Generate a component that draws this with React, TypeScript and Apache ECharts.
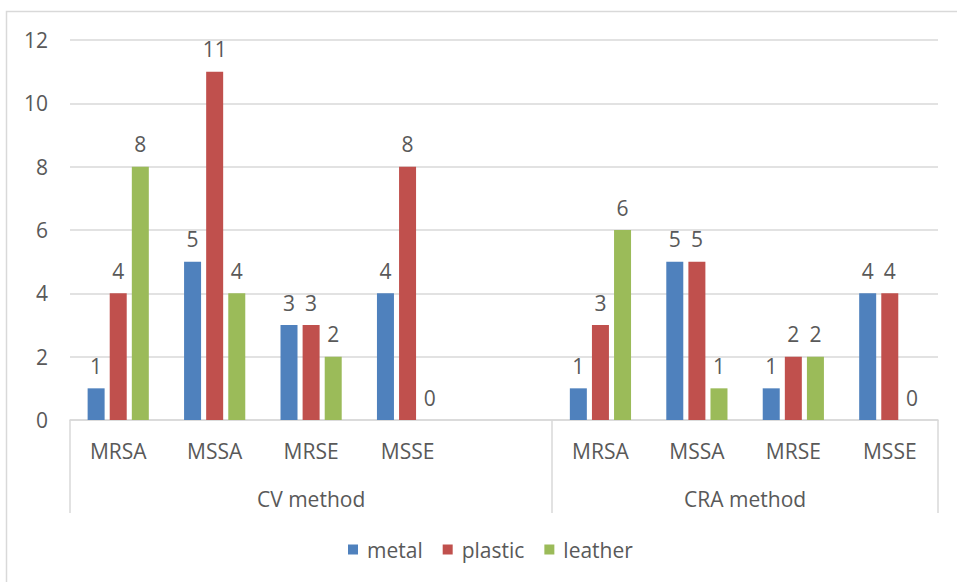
import React, { useEffect, useRef } from 'react';
import * as echarts from 'echarts';

// Two method groups, each holding the organisms tested with it
const cvLabel = 'CV method';
const craLabel = 'CRA method';
const cvOrganisms = ['MRSA', 'MSSA', 'MRSE', 'MSSE', ''];
const craOrganisms = ['MRSA', 'MSSA', 'MRSE', 'MSSE'];

// Counts per surface material, in the same order as the categories above
const metal = [1, 5, 3, 4, null, 1, 5, 1, 4];
const plastic = [4, 11, 3, 8, null, 3, 5, 2, 4];
const leather = [8, 4, 2, 0, null, 6, 1, 2, 0];

const seriesNames = ['metal', 'plastic', 'leather'];
const seriesColors = ['#4F81BD', '#C0504D', '#9BBB59'];

const TEXT = '#595959';
const GRID = '#D9D9D9';
const FONT = '"Open Sans", "Noto Sans", sans-serif';
const FS = 21;

export default function App() {
  const ref = useRef<HTMLDivElement>(null);

  useEffect(() => {
    if (!ref.current) return;
    const chart = echarts.init(ref.current, undefined, { renderer: 'svg' });

    const organisms = [...cvOrganisms, ...craOrganisms];
    // unique keys so repeated organism names stay separate slots
    const keys = organisms.map((o, i) => `${i}:${o}`);
    const cvCenter = cvOrganisms.length / 2;
    const craCenter = cvOrganisms.length + craOrganisms.length / 2;
    const groupStart = cvOrganisms.length;

    const values = [metal, plastic, leather];

    chart.setOption({
      animation: false,
      backgroundColor: '#ffffff',
      textStyle: { fontFamily: FONT },
      grid: { left: 70, right: 19, top: 40, bottom: 162, containLabel: false },
      graphic: [
        {
          type: 'rect',
          shape: { x: 6.5, y: 11.5, width: 1000, height: 1000 },
          style: { fill: 'none', stroke: GRID, lineWidth: 1.5 },
          silent: true,
        },
      ],
      legend: {
        data: seriesNames,
        top: 534,
        left: 343,
        icon: 'rect',
        itemWidth: 10,
        itemHeight: 10,
        itemGap: 20,
        textStyle: { fontSize: FS, color: TEXT, fontFamily: FONT, padding: [0, 0, 0, 4] },
      },
      xAxis: [
        {
          type: 'category',
          data: keys,
          axisLine: { show: true, lineStyle: { color: GRID, width: 1.5 } },
          axisTick: {
            show: true,
            length: 93,
            interval: (i: number) => i === 0 || i === groupStart,
            lineStyle: { color: GRID, width: 1.5 },
          },
          axisLabel: {
            interval: 0,
            margin: 20,
            fontSize: FS,
            color: TEXT,
            fontFamily: FONT,
            formatter: (v: string) => v.split(':')[1],
          },
          splitLine: { show: false },
        },
        {
          type: 'value',
          position: 'bottom',
          min: 0,
          max: organisms.length,
          interval: 0.5,
          axisLine: { show: false },
          axisTick: { show: false },
          splitLine: { show: false },
          axisLabel: {
            margin: 68,
            fontSize: FS,
            color: TEXT,
            fontFamily: FONT,
            showMinLabel: true,
            showMaxLabel: true,
            formatter: (v: number) =>
              v === cvCenter ? cvLabel : v === craCenter ? craLabel : '',
          },
        },
      ],
      yAxis: {
        type: 'value',
        min: 0,
        max: 12,
        interval: 2,
        axisLine: { show: false },
        axisTick: { show: false },
        splitLine: { lineStyle: { color: GRID, width: 1.5 } },
        axisLabel: { fontSize: FS, color: TEXT, margin: 22, fontFamily: FONT },
      },
      series: seriesNames.map((name, k) => ({
        name,
        type: 'bar',
        xAxisIndex: 0,
        data: values[k],
        barWidth: 17,
        barGap: '30%',
        itemStyle: { color: seriesColors[k] },
        label: {
          show: true,
          position: 'top',
          distance: 12,
          fontSize: FS,
          color: TEXT,
          fontFamily: FONT,
        },
      })),
    });

    return () => chart.dispose();
  }, []);

  return (
    <div
      ref={ref}
      style={{ position: 'fixed', left: 0, top: 0, width: 957, height: 582, background: '#fff' }}
    />
  );
}
